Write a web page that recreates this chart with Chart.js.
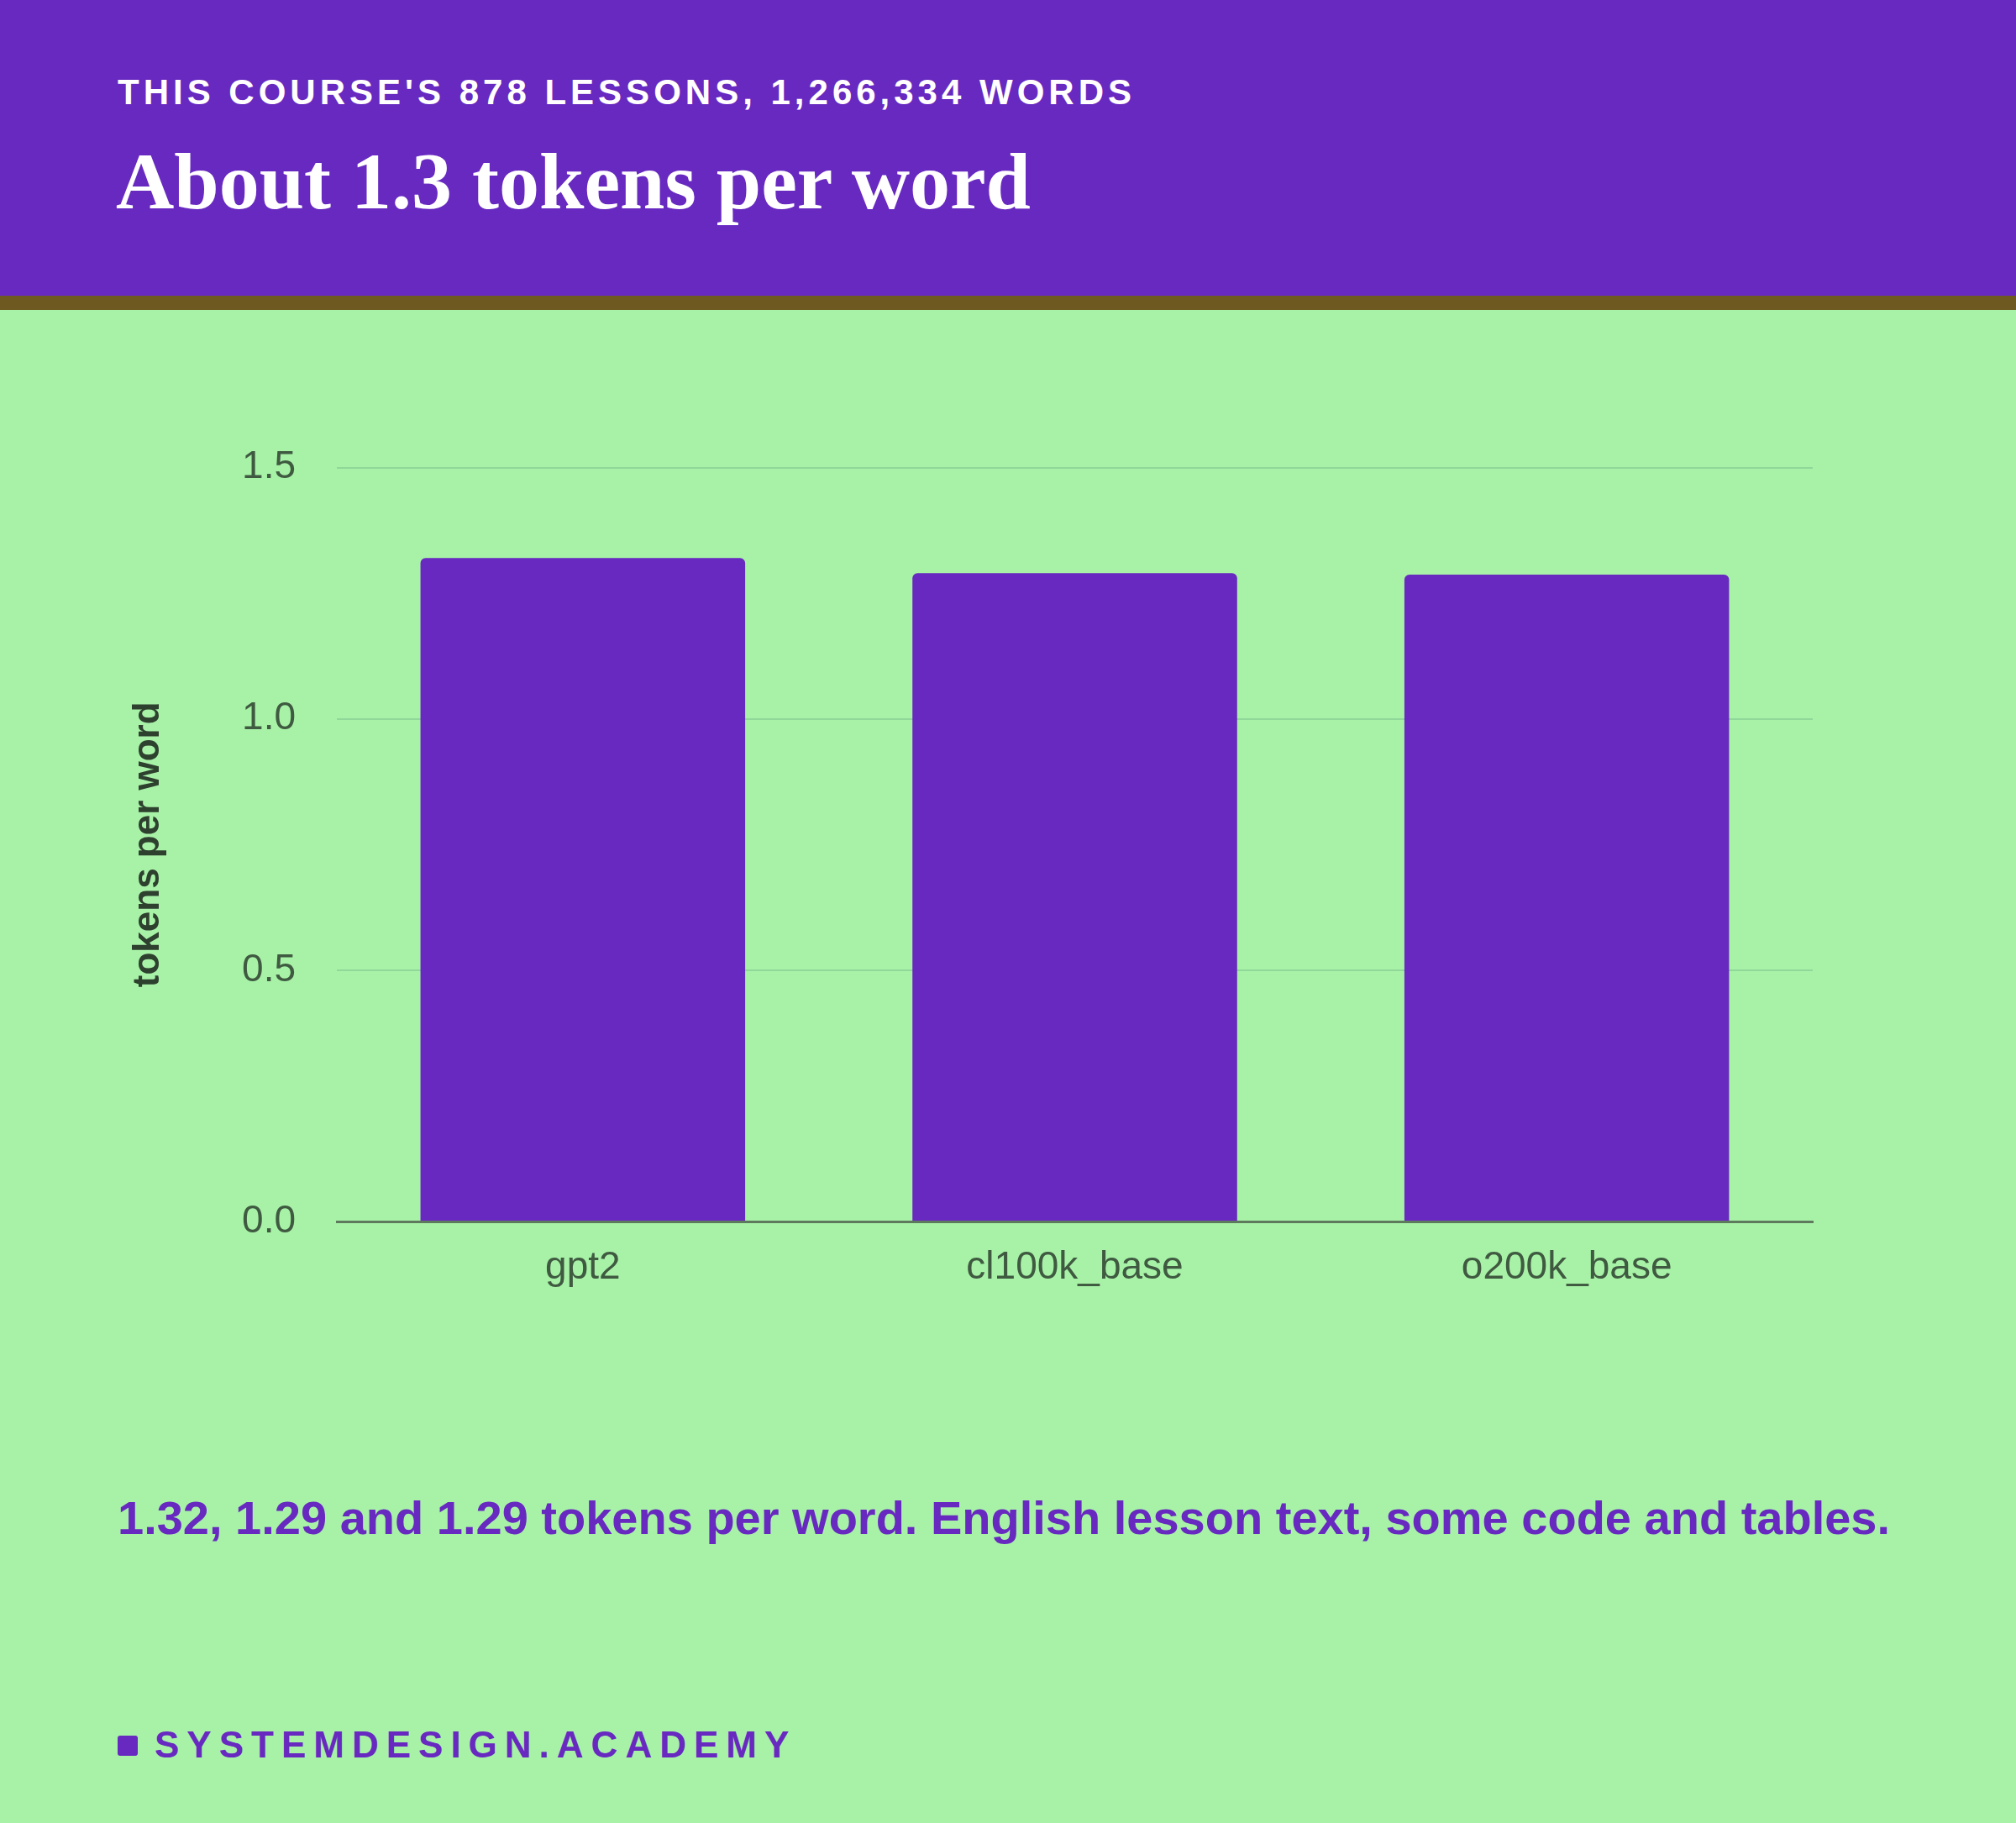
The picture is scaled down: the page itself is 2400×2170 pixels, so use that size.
<!DOCTYPE html>
<html><head><meta charset="utf-8">
<script src="https://cdn.jsdelivr.net/npm/chart.js@4"></script>
<style>
html,body{margin:0;padding:0;}
body{width:2400px;height:2170px;background:#a8f2a8;position:relative;overflow:hidden;font-family:"Liberation Sans",Arial,sans-serif;}
#head{position:absolute;left:0;top:0;width:2400px;height:352px;background:#6829c0;border-bottom:17px solid #6e5a20;}
#kicker{position:absolute;left:140px;top:86px;color:#fff;font-weight:bold;font-size:42px;letter-spacing:5px;}
#title{position:absolute;left:138px;top:160px;color:#fff;font-family:"Liberation Serif",serif;font-weight:bold;font-size:96px;}
#wrap{position:absolute;left:0;top:480px;width:2400px;height:1150px;}
#cap{position:absolute;left:140px;top:1768px;width:2160px;color:#6829c0;font-weight:bold;font-size:56px;line-height:78px;}
#foot{position:absolute;left:140px;top:2052px;color:#6829c0;font-weight:bold;font-size:44px;letter-spacing:9px;}
#foot span{display:inline-block;width:24px;height:24px;background:#6829c0;border-radius:3px;margin-right:20px;vertical-align:2px;}
</style></head><body>
<div id="head"><div id="kicker">THIS COURSE'S 878 LESSONS, 1,266,334 WORDS</div><div id="title">About 1.3 tokens per word</div></div>
<div id="wrap"><canvas id="c"></canvas></div>
<div id="cap">1.32, 1.29 and 1.29 tokens per word. English lesson text, some code and tables.</div>
<div id="foot"><span></span>SYSTEMDESIGN.ACADEMY</div>
<script>
const categories = ['gpt2', 'cl100k_base', 'o200k_base'];
const tokensPerWord = [1.32, 1.29, 1.287];
const yTicks = [0, 0.5, 1.0, 1.5];

const tickColor = '#3f5a40';
new Chart(document.getElementById('c'), {
  type: 'bar',
  data: { labels: categories, datasets: [{ data: tokensPerWord, backgroundColor: '#6829c0', borderRadius: 6, borderSkipped: 'bottom', barPercentage: 0.66, categoryPercentage: 1 }] },
  options: {
    responsive: true, maintainAspectRatio: false, animation: false,
    layout: { padding: { left: 150, right: 242, top: 36, bottom: 0 } },
    plugins: { legend: { display: false }, tooltip: { enabled: false } },
    scales: {
      x: {
        grid: { display: false, drawTicks: true },
        border: { color: '#5d7a5d', width: 3 },
        ticks: { color: tickColor, font: { size: 46, family: 'Liberation Sans' }, padding: 20 },
        afterFit: s => { s.height = 176; }
      },
      y: {
        min: 0, max: 1.5,
        afterBuildTicks: s => { s.ticks = yTicks.map(v => ({ value: v })); },
        grid: { color: '#8fd89a', lineWidth: 2, drawTicks: false },
        border: { display: false },
        ticks: { color: tickColor, font: { size: 46, family: 'Liberation Sans' }, padding: 49, callback: v => v.toFixed(1) },
        title: { display: true, text: 'tokens per word', color: '#2e402e', font: { size: 44, weight: 'bold', family: 'Liberation Sans' }, padding: 0 },
        afterFit: s => { s.width = 251; }
      }
    }
  }
});
</script>
</body></html>
